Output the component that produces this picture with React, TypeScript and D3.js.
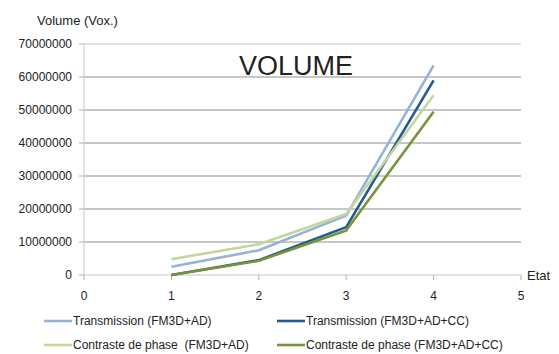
import React from "react";
import * as d3 from "d3";

const etats = [1, 2, 3, 4];
const transAD = [2500000, 7500000, 18000000, 63500000];
const transADCC = [0, 4500000, 14500000, 59000000];
const contAD = [4800000, 9300000, 18500000, 54500000];
const contADCC = [0, 4300000, 13500000, 49500000];
const yTicks = [0, 10000000, 20000000, 30000000, 40000000, 50000000, 60000000, 70000000];
const xTicks = [0, 1, 2, 3, 4, 5];

const series = [
  { name: "Transmission (FM3D+AD)", values: transAD, color: "#95B3D7" },
  { name: "Transmission (FM3D+AD+CC)", values: transADCC, color: "#245A8F" },
  { name: "Contraste de phase  (FM3D+AD)", values: contAD, color: "#C3D69B" },
  { name: "Contraste de phase (FM3D+AD+CC)", values: contADCC, color: "#77933C" },
];

export default function App() {
  const W = 559, H = 354;
  const x = d3.scaleLinear().domain([0, 5]).range([84, 521]);
  const y = d3.scaleLinear().domain([0, 70000000]).range([275, 44]);
  const line = d3.line<number>().x((_, i) => x(etats[i])).y((d) => y(d));
  const font = "'Liberation Sans', Arial, sans-serif";
  const legendPos = [
    [44, 321], [277, 321], [44, 345], [277, 345],
  ];
  return (
    <svg width={W} height={H} style={{ position: "absolute", left: 0, top: 0, background: "#fff" }} fontFamily={font}>
      {yTicks.map((t) => (
        <g key={t}>
          {t > 0 && <line x1={84} x2={521} y1={y(t)} y2={y(t)} stroke={t === 70000000 ? "#c4c4c4" : "#8f8f8f"} strokeWidth={1} />}
          <line x1={79} x2={84} y1={y(t)} y2={y(t)} stroke="#b0b0b0" />
          <text x={72} y={y(t)} dy="0.35em" textAnchor="end" fontSize={12} fill="#222">{t}</text>
        </g>
      ))}
      <line x1={84} x2={84} y1={44} y2={275} stroke="#c8c8c8" strokeWidth={1} />
      <line x1={84} x2={521} y1={275} y2={275} stroke="#c8c8c8" strokeWidth={1} />
      {xTicks.map((t) => (
        <g key={t}>
          <line x1={x(t)} x2={x(t)} y1={275} y2={280} stroke="#b0b0b0" />
          <text x={x(t)} y={296} dy="0.35em" textAnchor="middle" fontSize={12} fill="#222">{t}</text>
        </g>
      ))}
      <text x={527} y={275} dy="0.35em" fontSize={13} fill="#222">Etat</text>
      <text x={37} y={20} dy="0.35em" fontSize={13} fill="#222">Volume (Vox.)</text>
      <text x={296} y={66} dy="0.35em" textAnchor="middle" fontSize={27} fill="#222">VOLUME</text>
      {series.map((s) => (
        <path key={s.name} d={line(s.values) || ""} fill="none" stroke={s.color} strokeWidth={2.6} strokeLinejoin="round" />
      ))}
      {series.map((s, i) => (
        <g key={s.name}>
          <line x1={legendPos[i][0]} x2={legendPos[i][0] + 28} y1={legendPos[i][1]} y2={legendPos[i][1]} stroke={s.color} strokeWidth={2.6} />
          <text x={legendPos[i][0] + 29} y={legendPos[i][1]} dy="0.35em" fontSize={12} fill="#222" style={{ whiteSpace: "pre" }}>{s.name}</text>
        </g>
      ))}
    </svg>
  );
}
